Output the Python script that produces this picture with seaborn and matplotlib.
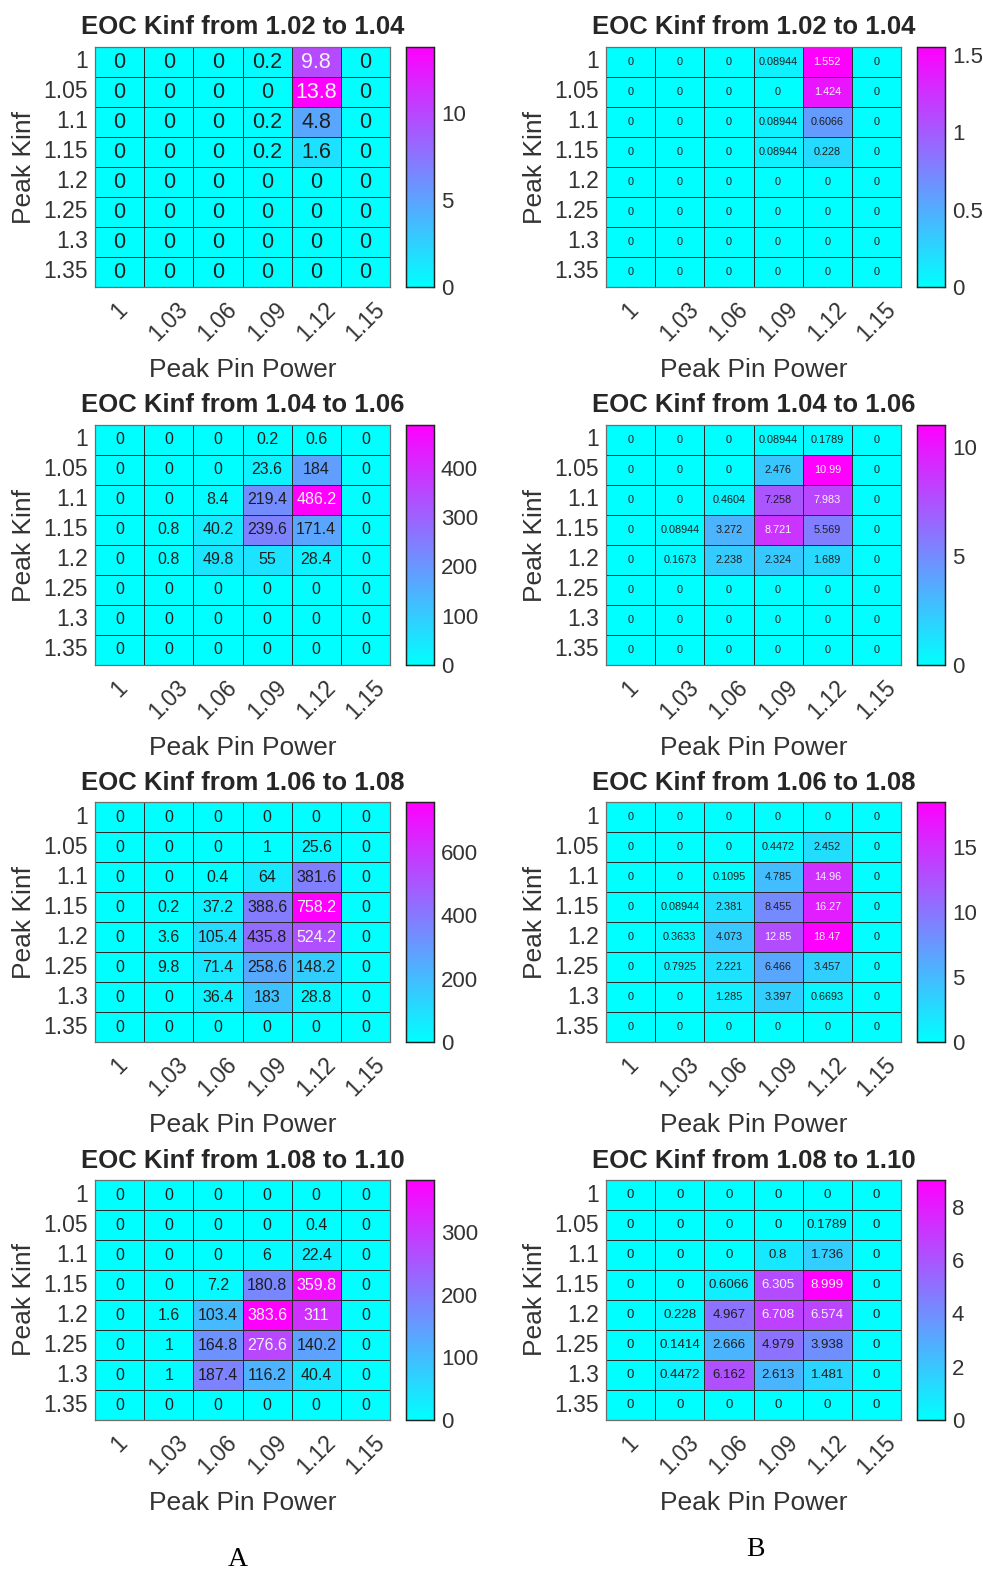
import numpy as np
import pandas as pd
import matplotlib
matplotlib.use("Agg")
import matplotlib.pyplot as plt
import seaborn as sns

sns.set_theme(style="white")
plt.rcParams["font.family"] = ["Liberation Sans", "DejaVu Sans"]

# Axis categories
peak_kinf = ["1", "1.05", "1.1", "1.15", "1.2", "1.25", "1.3", "1.35"]
peak_pin_power = ["1", "1.03", "1.06", "1.09", "1.12", "1.15"]

titles = ["EOC Kinf from 1.02 to 1.04", "EOC Kinf from 1.04 to 1.06",
          "EOC Kinf from 1.06 to 1.08", "EOC Kinf from 1.08 to 1.10"]

# Column A: counts per (Peak Kinf, Peak Pin Power) bin
counts_102_104 = [
    [0, 0, 0, 0.2, 9.8, 0],
    [0, 0, 0, 0, 13.8, 0],
    [0, 0, 0, 0.2, 4.8, 0],
    [0, 0, 0, 0.2, 1.6, 0],
    [0, 0, 0, 0, 0, 0],
    [0, 0, 0, 0, 0, 0],
    [0, 0, 0, 0, 0, 0],
    [0, 0, 0, 0, 0, 0],
]
counts_104_106 = [
    [0, 0, 0, 0.2, 0.6, 0],
    [0, 0, 0, 23.6, 184, 0],
    [0, 0, 8.4, 219.4, 486.2, 0],
    [0, 0.8, 40.2, 239.6, 171.4, 0],
    [0, 0.8, 49.8, 55, 28.4, 0],
    [0, 0, 0, 0, 0, 0],
    [0, 0, 0, 0, 0, 0],
    [0, 0, 0, 0, 0, 0],
]
counts_106_108 = [
    [0, 0, 0, 0, 0, 0],
    [0, 0, 0, 1, 25.6, 0],
    [0, 0, 0.4, 64, 381.6, 0],
    [0, 0.2, 37.2, 388.6, 758.2, 0],
    [0, 3.6, 105.4, 435.8, 524.2, 0],
    [0, 9.8, 71.4, 258.6, 148.2, 0],
    [0, 0, 36.4, 183, 28.8, 0],
    [0, 0, 0, 0, 0, 0],
]
counts_108_110 = [
    [0, 0, 0, 0, 0, 0],
    [0, 0, 0, 0, 0.4, 0],
    [0, 0, 0, 6, 22.4, 0],
    [0, 0, 7.2, 180.8, 359.8, 0],
    [0, 1.6, 103.4, 383.6, 311, 0],
    [0, 1, 164.8, 276.6, 140.2, 0],
    [0, 1, 187.4, 116.2, 40.4, 0],
    [0, 0, 0, 0, 0, 0],
]

# Column B: spread per (Peak Kinf, Peak Pin Power) bin
spread_102_104 = [
    [0, 0, 0, 0.08944, 1.552, 0],
    [0, 0, 0, 0, 1.424, 0],
    [0, 0, 0, 0.08944, 0.6066, 0],
    [0, 0, 0, 0.08944, 0.228, 0],
    [0, 0, 0, 0, 0, 0],
    [0, 0, 0, 0, 0, 0],
    [0, 0, 0, 0, 0, 0],
    [0, 0, 0, 0, 0, 0],
]
spread_104_106 = [
    [0, 0, 0, 0.08944, 0.1789, 0],
    [0, 0, 0, 2.476, 10.99, 0],
    [0, 0, 0.4604, 7.258, 7.983, 0],
    [0, 0.08944, 3.272, 8.721, 5.569, 0],
    [0, 0.1673, 2.238, 2.324, 1.689, 0],
    [0, 0, 0, 0, 0, 0],
    [0, 0, 0, 0, 0, 0],
    [0, 0, 0, 0, 0, 0],
]
spread_106_108 = [
    [0, 0, 0, 0, 0, 0],
    [0, 0, 0, 0.4472, 2.452, 0],
    [0, 0, 0.1095, 4.785, 14.96, 0],
    [0, 0.08944, 2.381, 8.455, 16.27, 0],
    [0, 0.3633, 4.073, 12.85, 18.47, 0],
    [0, 0.7925, 2.221, 6.466, 3.457, 0],
    [0, 0, 1.285, 3.397, 0.6693, 0],
    [0, 0, 0, 0, 0, 0],
]
spread_108_110 = [
    [0, 0, 0, 0, 0, 0],
    [0, 0, 0, 0, 0.1789, 0],
    [0, 0, 0, 0.8, 1.736, 0],
    [0, 0, 0.6066, 6.305, 8.999, 0],
    [0, 0.228, 4.967, 6.708, 6.574, 0],
    [0, 0.1414, 2.666, 4.979, 3.938, 0],
    [0, 0.4472, 6.162, 2.613, 1.481, 0],
    [0, 0, 0, 0, 0, 0],
]

# Colorbar ticks for each panel
ticks_a = [[0, 5, 10], [0, 100, 200, 300, 400], [0, 200, 400, 600], [0, 100, 200, 300]]
ticks_b = [[0, 0.5, 1, 1.5], [0, 5, 10], [0, 5, 10, 15], [0, 2, 4, 6, 8]]

col_a = [counts_102_104, counts_104_106, counts_106_108, counts_108_110]
col_b = [spread_102_104, spread_104_106, spread_106_108, spread_108_110]
annot_size_a = [15.5, 11.5, 11.5, 11.5]
annot_size_b = [7.8, 7.8, 7.8, 9.5]

W, H = 983, 1574
fig = plt.figure(figsize=(W / 100, H / 100), dpi=100)


def px_axes(x0, y0, w, h):
    return fig.add_axes([x0 / W, 1 - (y0 + h) / H, w / W, h / H])


panel_tops = [47, 425, 802, 1180]
panel_h = 240
hm_w = 295
cb_w = 28
col_left = [95, 606]


def draw_panel(x0, y0, values, title, cticks, annot_size):
    arr = np.array(values, dtype=float)
    df = pd.DataFrame(arr, index=peak_kinf, columns=peak_pin_power)
    ax = px_axes(x0, y0, hm_w, panel_h)
    cax = px_axes(x0 + hm_w + 16, y0, cb_w, panel_h)
    vmax = arr.max()
    sns.heatmap(df, ax=ax, cbar_ax=cax, cmap="cool", vmin=0, vmax=vmax,
                annot=True, fmt=".4g", annot_kws={"fontsize": annot_size},
                linewidths=0.6, linecolor="#2b2b2b",
                cbar_kws={"ticks": cticks})
    # text colour follows the cell brightness
    for txt, v in zip(ax.texts, arr.flat):
        txt.set_color("#f4f4f4" if v / vmax > 0.688 else "#1e1e1e")
    for sp in ax.spines.values():
        sp.set_visible(True)
        sp.set_color("#6e6e6e")
        sp.set_linewidth(0.9)
    ax.set_title(title, fontsize=18.5, fontweight="bold", color="#262626", pad=9)
    ax.set_xlabel("Peak Pin Power", fontsize=19, color="#333333", labelpad=9)
    ax.set_ylabel("Peak Kinf", fontsize=19, color="#333333", labelpad=5)
    ax.tick_params(axis="both", length=0, labelsize=16.5, colors="#333333")
    ax.tick_params(axis="x", pad=8)
    ax.tick_params(axis="y", pad=5)
    plt.setp(ax.get_yticklabels(), rotation=0, ha="right")
    plt.setp(ax.get_xticklabels(), rotation=45, ha="center", va="top")
    cax.tick_params(direction="in", length=3, labelsize=16, colors="#333333",
                    width=0.8, pad=5)
    cax.yaxis.set_major_formatter(matplotlib.ticker.FormatStrFormatter("%g"))
    for sp in cax.spines.values():
        sp.set_visible(True)
        sp.set_edgecolor("#222222")
        sp.set_linewidth(0.9)


for i in range(4):
    draw_panel(col_left[0], panel_tops[i], col_a[i], titles[i], ticks_a[i], annot_size_a[i])
    draw_panel(col_left[1], panel_tops[i], col_b[i], titles[i], ticks_b[i], annot_size_b[i])

fig.text(238 / W, 1 - 1560 / H, "A", fontsize=20, family="Liberation Serif",
         ha="center", va="center", color="black")
fig.text(755 / W, 1 - 1550 / H, "B", fontsize=20, family="Liberation Serif",
         ha="center", va="center", color="black")

fig.savefig("out.png", dpi=100, facecolor="white")
